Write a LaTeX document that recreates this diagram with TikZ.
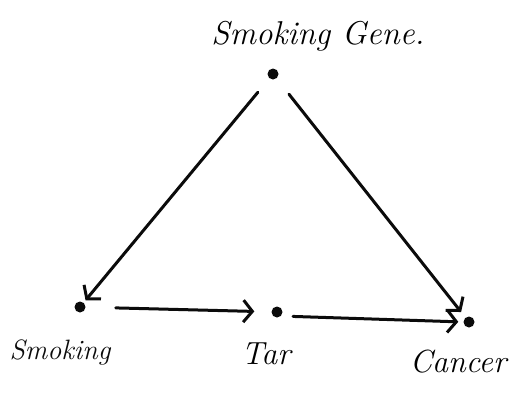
\documentclass[tikz,border=0pt]{standalone}
\usepackage{fontspec}
\usepackage{tikz}
\usetikzlibrary{arrows.meta,positioning}
\definecolor{tinta}{HTML}{0B0B0B}

\begin{document}
\begin{tikzpicture}[x=1pt,y=-1pt,
    punto/.style={circle,fill=tinta,inner sep=0pt,minimum size=11pt},
    rotulo/.style={font=\fontsize{28}{32}\selectfont\itshape\color{tinta},inner sep=1pt},
    flecha/.style={->,tinta,line width=3pt,line cap=round},
    >={Straight Barb[length=9pt,width=22pt,line width=3pt]}]
  \useasboundingbox (0,0) rectangle (512,405);
  % puntos
  \node[punto] (gen) at (273,74) {};
  \node[punto] (fum) at (80,307) {};
  \node[punto] (alq) at (277,312) {};
  \node[punto] (can) at (469,322) {};
  % rotulos
  \node[rotulo,font=\fontsize{33}{38}\selectfont\itshape] (tgen) at (318,36) {Smoking Gene.};
  \node[rotulo] (tfum) at (60,352) {Smoking};
  \node[rotulo,font=\fontsize{32}{36}\selectfont\itshape] (talq) at (266,354) {Tar};
  \node[rotulo,font=\fontsize{32}{36}\selectfont\itshape] (tcan) at (458,362) {Cancer};
  % flechas
  \draw[flecha,shorten <=18pt,shorten >=3pt] (gen) -- (fum);
  \draw[flecha,shorten <=20pt,shorten >=7pt] (gen) -- (can);
  \draw[flecha,shorten <=30pt,shorten >=17pt] (fum) -- (alq);
  \draw[flecha,shorten <=12pt,shorten >=5pt] (alq.south east) -- (can.west);
\end{tikzpicture}
\end{document}
